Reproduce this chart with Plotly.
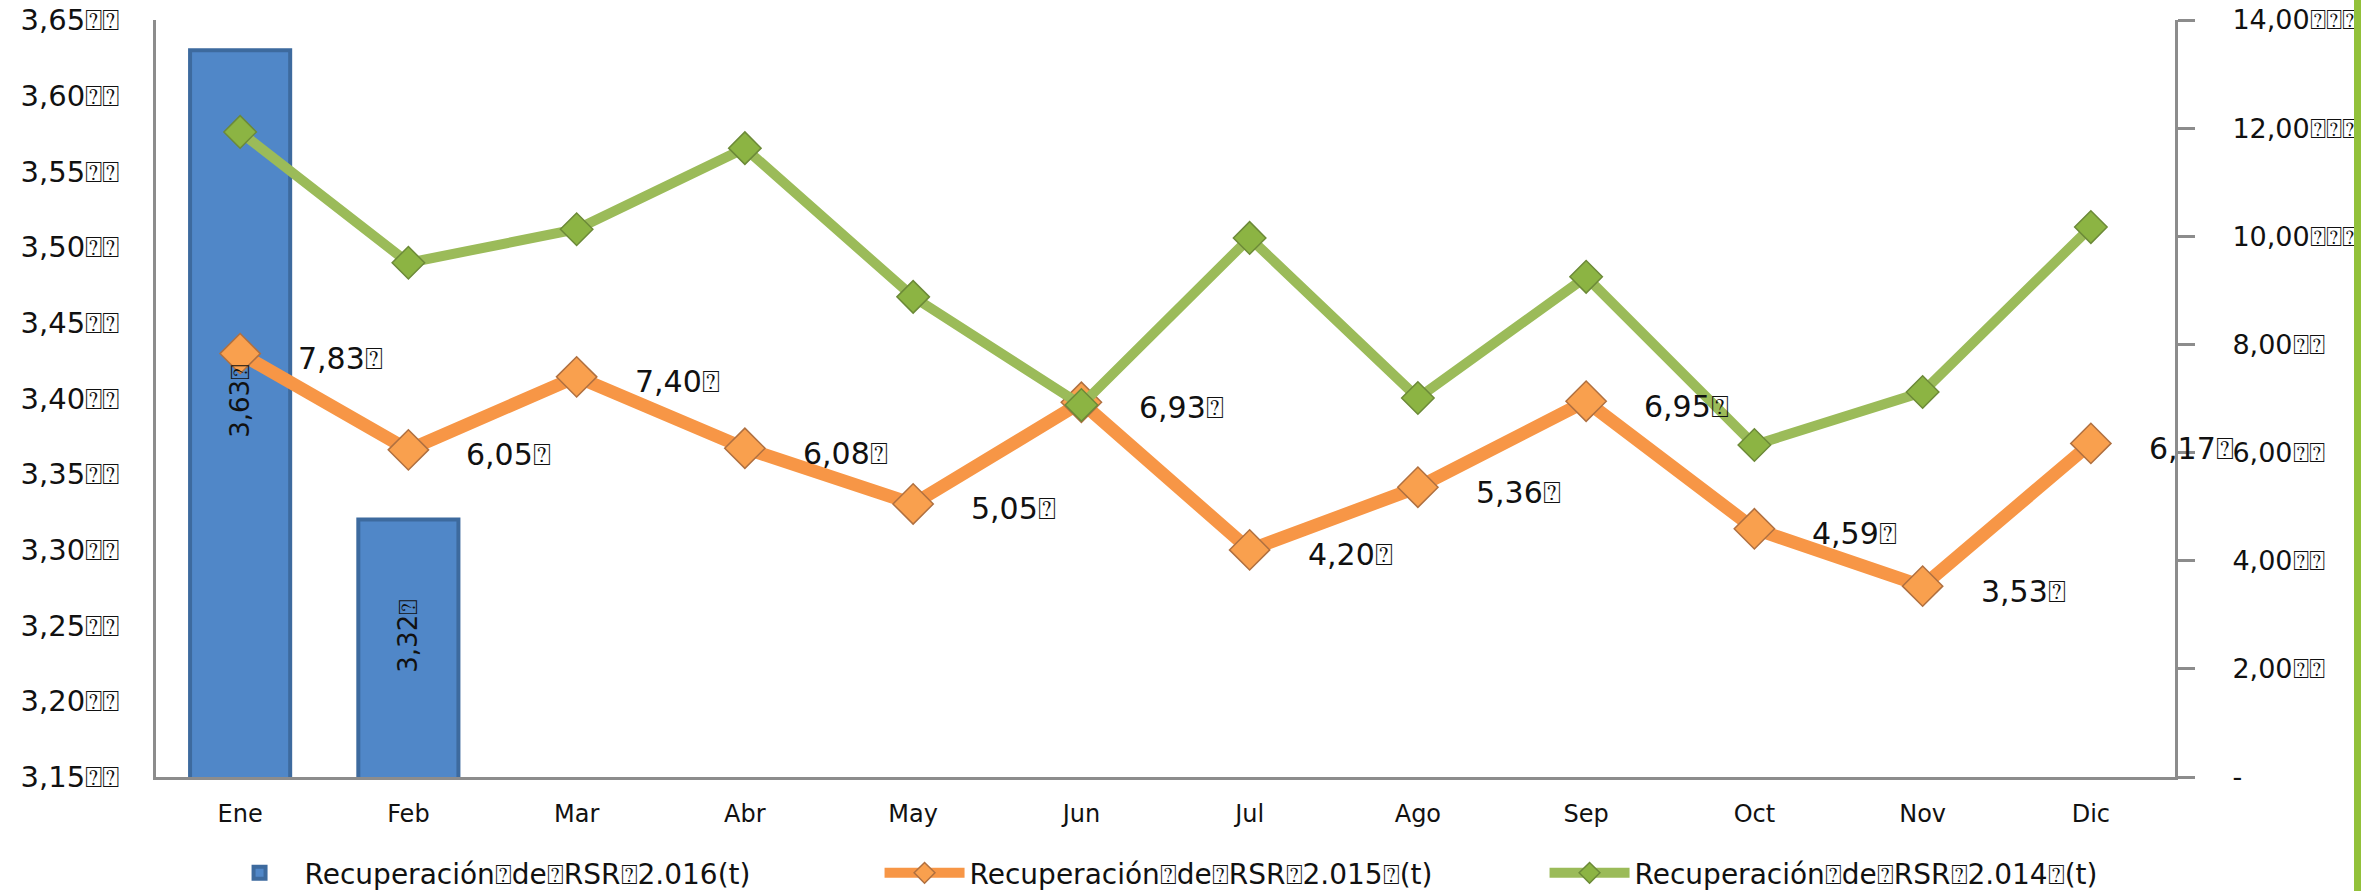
import plotly.graph_objects as go

BOX = "\u2370"

months = ["Ene", "Feb", "Mar", "Abr", "May", "Jun", "Jul", "Ago", "Sep", "Oct", "Nov", "Dic"]
rsr_2016 = [3.63, 3.32]
rsr_2015 = [7.83, 6.05, 7.40, 6.08, 5.05, 6.93, 4.20, 5.36, 6.95, 4.59, 3.53, 6.17]
rsr_2014 = [11.93, 9.51, 10.13, 11.63, 8.88, 6.88, 9.97, 7.01, 9.25, 6.14, 7.12, 10.17]

left_ticks = [3.15, 3.20, 3.25, 3.30, 3.35, 3.40, 3.45, 3.50, 3.55, 3.60, 3.65]
right_ticks = [0, 2, 4, 6, 8, 10, 12, 14]

name_2016 = "Recuperación" + BOX + "de" + BOX + "RSR" + BOX + "2.016(t)"
name_2015 = "Recuperación" + BOX + "de" + BOX + "RSR" + BOX + "2.015" + BOX + "(t)"
name_2014 = "Recuperación" + BOX + "de" + BOX + "RSR" + BOX + "2.014" + BOX + "(t)"


def es(v):
    return f"{v:.2f}".replace(".", ",")


left_text = [es(v) + BOX * 2 for v in left_ticks]
right_text = ["-" if v == 0 else es(v) + BOX * (3 if v >= 10 else 2) for v in right_ticks]

FONT = "DejaVu Sans"
ORANGE = "#F79646"
GREEN = "#9BBB59"
BLUE = "#5087C8"
AXIS = "#8C8C8C"
Y_MIN = left_ticks[0]

fig = go.Figure()

fig.add_trace(go.Bar(
    x=months[:len(rsr_2016)], y=rsr_2016, name=name_2016,
    marker=dict(color=BLUE, line=dict(color="#3D6A9E", width=4)),
))

fig.add_trace(go.Scatter(
    x=months, y=rsr_2015, yaxis="y2", name=name_2015, mode="lines+markers",
    line=dict(color=ORANGE, width=13),
    marker=dict(symbol="diamond", size=31, color="#F9A04E",
                line=dict(color="#B07040", width=1.5)),
))

fig.add_trace(go.Scatter(
    x=months, y=rsr_2014, yaxis="y2", name=name_2014, mode="lines+markers",
    line=dict(color=GREEN, width=10),
    marker=dict(symbol="diamond", size=25, color="#8CB443",
                line=dict(color="#6C8A38", width=1.5)),
))

for m, v in zip(months, rsr_2016):
    fig.add_annotation(x=m, y=(Y_MIN + v) / 2, yref="y", text=es(v) + BOX,
                       showarrow=False, textangle=-90, yshift=13,
                       font=dict(family=FONT, size=26, color="#111111"))

for m, v in zip(months, rsr_2015):
    fig.add_annotation(x=m, y=v, yref="y2", text=es(v) + BOX, showarrow=False,
                       xanchor="left", yanchor="middle", xshift=56, yshift=-5,
                       font=dict(family=FONT, size=30, color="#111111"))

fig.update_layout(
    width=2361, height=891,
    margin=dict(l=156, r=186, t=20, b=114, autoexpand=False),
    paper_bgcolor="white", plot_bgcolor="white",
    bargap=0.405,
    showlegend=True,
    legend=dict(orientation="h", x=0.029, xanchor="left", y=-0.127, yanchor="middle",
                font=dict(family=FONT, size=28, color="#111111"),
                itemwidth=80, entrywidth=570, entrywidthmode="pixels",
                bgcolor="rgba(0,0,0,0)"),
    xaxis=dict(type="category", categoryorder="array", categoryarray=months,
               range=[-0.5, len(months) - 0.5], automargin=False,
               showline=True, linecolor=AXIS, linewidth=3, ticks="",
               showgrid=False, ticklabelstandoff=13,
               tickfont=dict(family=FONT, size=24, color="#111111")),
    yaxis=dict(range=[left_ticks[0], left_ticks[-1]], tickvals=left_ticks, ticktext=left_text,
               automargin=False,
               showline=True, linecolor=AXIS, linewidth=3, ticks="",
               showgrid=False, zeroline=False, ticklabelstandoff=28,
               tickfont=dict(family=FONT, size=29, color="#111111")),
    yaxis2=dict(range=[right_ticks[0], right_ticks[-1]], tickvals=right_ticks, ticktext=right_text,
                overlaying="y", side="right", anchor="x", automargin=False,
                showline=True, linecolor=AXIS, linewidth=3,
                ticks="outside", ticklen=17, tickwidth=3, tickcolor=AXIS,
                showgrid=False, zeroline=False, ticklabelstandoff=32,
                tickfont=dict(family=FONT, size=27, color="#111111")),
)

fig.add_shape(type="rect", xref="paper", yref="paper",
              x0=(2354 - 156) / 2019, x1=(2366 - 156) / 2019,
              y0=-114 / 757, y1=(757 + 20) / 757,
              fillcolor="#92C13A", line=dict(width=0), layer="above")

fig.write_html("out.html", config={"displayModeBar": False},
               post_script="document.body.style.margin='0';document.body.style.overflow='hidden';")
